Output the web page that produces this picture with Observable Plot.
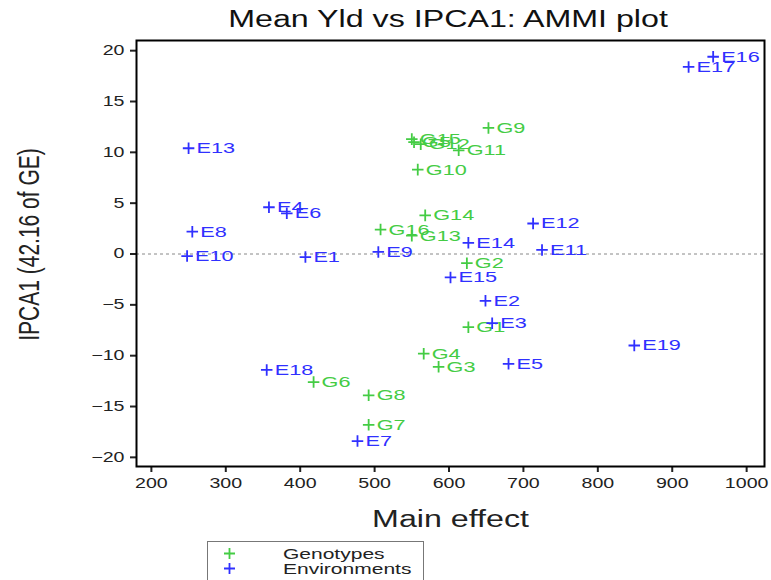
<!DOCTYPE html>
<html>
<head>
<meta charset="utf-8">
<script src="https://cdn.jsdelivr.net/npm/d3@7"></script>
<script src="https://cdn.jsdelivr.net/npm/@observablehq/plot@0.6"></script>
<style>
  body { margin: 0; background: #fff; font-family: "Liberation Sans", Arial, sans-serif; }
  #wrap { position: relative; width: 771px; height: 580px; overflow: hidden; }
  #title { position: absolute; left: 148px; top: 8px; width: 600px; text-align: center; font-size: 23px; line-height: 23px; color: #111; }
  #title span { display: inline-block; transform: scaleX(1.4); transform-origin: center; white-space: nowrap; }
  #chart { position: absolute; left: 0; top: 32px; }
  #legend { position: absolute; left: 207px; top: 541px; width: 217px; height: 44px; border: 1px solid #777; box-sizing: border-box; font-size: 15px; color: #222; }
  .row { position: absolute; left: 0; height: 15px; line-height: 15px; width: 215px; }
  .row svg { position: absolute; left: 15px; top: 1px; }
  .lab { position: absolute; left: 75px; white-space: nowrap; transform: scaleX(1.4); transform-origin: left center; }
</style>
</head>
<body>
<div id="wrap">
  <div id="title"><span>Mean Yld vs IPCA1: AMMI plot</span></div>
  <div id="chart"></div>
  <div id="legend">
    <div class="row" style="top:4px"><svg width="13" height="13"><path d="M1,6.5H12M6.5,1V12" stroke="#44cc44" stroke-width="1.8"/></svg><span class="lab">Genotypes</span></div>
    <div class="row" style="top:19px"><svg width="13" height="13"><path d="M1,6.5H12M6.5,1V12" stroke="#3030ff" stroke-width="1.8"/></svg><span class="lab">Environments</span></div>
  </div>
</div>
<script>
// Genotype scores: main effect (mean yield) and first interaction axis
const genoNames = ["G1","G2","G3","G4","G5","G6","G7","G8","G9","G10","G11","G12","G13","G14","G15","G16"];
const genoMain  = [626, 624, 586, 566, 553, 418, 492, 492, 653, 558, 613, 562, 550, 568, 550, 508];
const genoIPCA  = [-7.2, -0.9, -11.1, -9.8, 11.0, -12.6, -16.8, -13.9, 12.4, 8.3, 10.2, 10.8, 1.8, 3.8, 11.3, 2.4];

// Environment scores
const envNames = ["E1","E2","E3","E4","E5","E6","E7","E8","E9","E10","E11","E12","E13","E14","E15","E16","E17","E18","E19"];
const envMain  = [407, 649, 658, 358, 680, 382, 477, 255, 505, 248, 725, 713, 250, 626, 602, 955, 922, 355, 849];
const envIPCA  = [-0.3, -4.6, -6.8, 4.6, -10.8, 4.0, -18.4, 2.2, 0.2, -0.2, 0.4, 3.0, 10.4, 1.1, -2.3, 19.4, 18.4, -11.4, -9.0];

const xTicks = [200, 300, 400, 500, 600, 700, 800, 900, 1000];
const yTicks = [-20, -15, -10, -5, 0, 5, 10, 15, 20];

const green = "#44cc44";
const blue = "#3030ff";

const genotypes = genoNames.map((name, i) => ({name, main: genoMain[i], ipca: genoIPCA[i]}));
const environments = envNames.map((name, i) => ({name, main: envMain[i], ipca: envIPCA[i]}));

// thin "+" marker
const plus = {
  draw(context, size) {
    const r = Math.sqrt(size) / 2;
    context.moveTo(-r, 0); context.lineTo(r, 0);
    context.moveTo(0, -r); context.lineTo(0, r);
  }
};

const labelStyle = {fontSize: 15.5, textAnchor: "start", dx: 8};

const chart = Plot.plot({
  width: 771,
  height: 500,
  marginLeft: 136,
  marginRight: 7,
  marginTop: 8,
  marginBottom: 66,
  style: {fontFamily: "Liberation Sans, Arial, sans-serif", background: "#fff"},
  x: {domain: [180, 1024], ticks: xTicks, label: null},
  y: {domain: [-20.9, 21], ticks: yTicks, label: null},
  marks: [
    Plot.ruleY([0], {stroke: "#888", strokeDasharray: "3,3", strokeWidth: 1}),
    Plot.axisX({ticks: xTicks, tickFormat: "d", tickSize: 6, tickPadding: 6, fontSize: 14, color: "#222", strokeWidth: 2, label: null}),
    Plot.axisY({ticks: yTicks, tickFormat: "d", tickSize: 6, tickPadding: 6, fontSize: 14, color: "#222", strokeWidth: 2, label: null}),
    Plot.frame({stroke: "#000", strokeWidth: 2}),
    Plot.dot(genotypes, {x: "main", y: "ipca", symbol: plus, r: 6.5, stroke: green, strokeWidth: 1.8}),
    Plot.text(genotypes, {x: "main", y: "ipca", text: "name", fill: green, ...labelStyle}),
    Plot.dot(environments, {x: "main", y: "ipca", symbol: plus, r: 6.5, stroke: blue, strokeWidth: 1.8}),
    Plot.text(environments, {x: "main", y: "ipca", text: "name", fill: blue, ...labelStyle}),
    Plot.text(["Main effect"], {frameAnchor: "bottom", dy: 60, fontSize: 23, fill: "#222"}),
    Plot.text(["IPCA1 (42.16 of GE)"], {frameAnchor: "left", textAnchor: "middle", dx: -107, dy: -9, rotate: -90, fontSize: 21, fill: "#222"})
  ]
});

// The type in this figure is set wide: stretch every glyph run horizontally
// about its own anchor point (for rotated text, across its local y axis).
chart.querySelectorAll("text").forEach((t) => {
  let tr = t.getAttribute("transform");
  if (!tr) {
    const x = +t.getAttribute("x") || 0, y = +t.getAttribute("y") || 0;
    t.removeAttribute("x"); t.removeAttribute("y");
    tr = `translate(${x},${y})`;
  }
  t.setAttribute("transform", tr + (tr.includes("rotate") ? " scale(1,1.4)" : " scale(1.4,1)"));
});

document.getElementById("chart").appendChild(chart);
</script>
</body>
</html>
